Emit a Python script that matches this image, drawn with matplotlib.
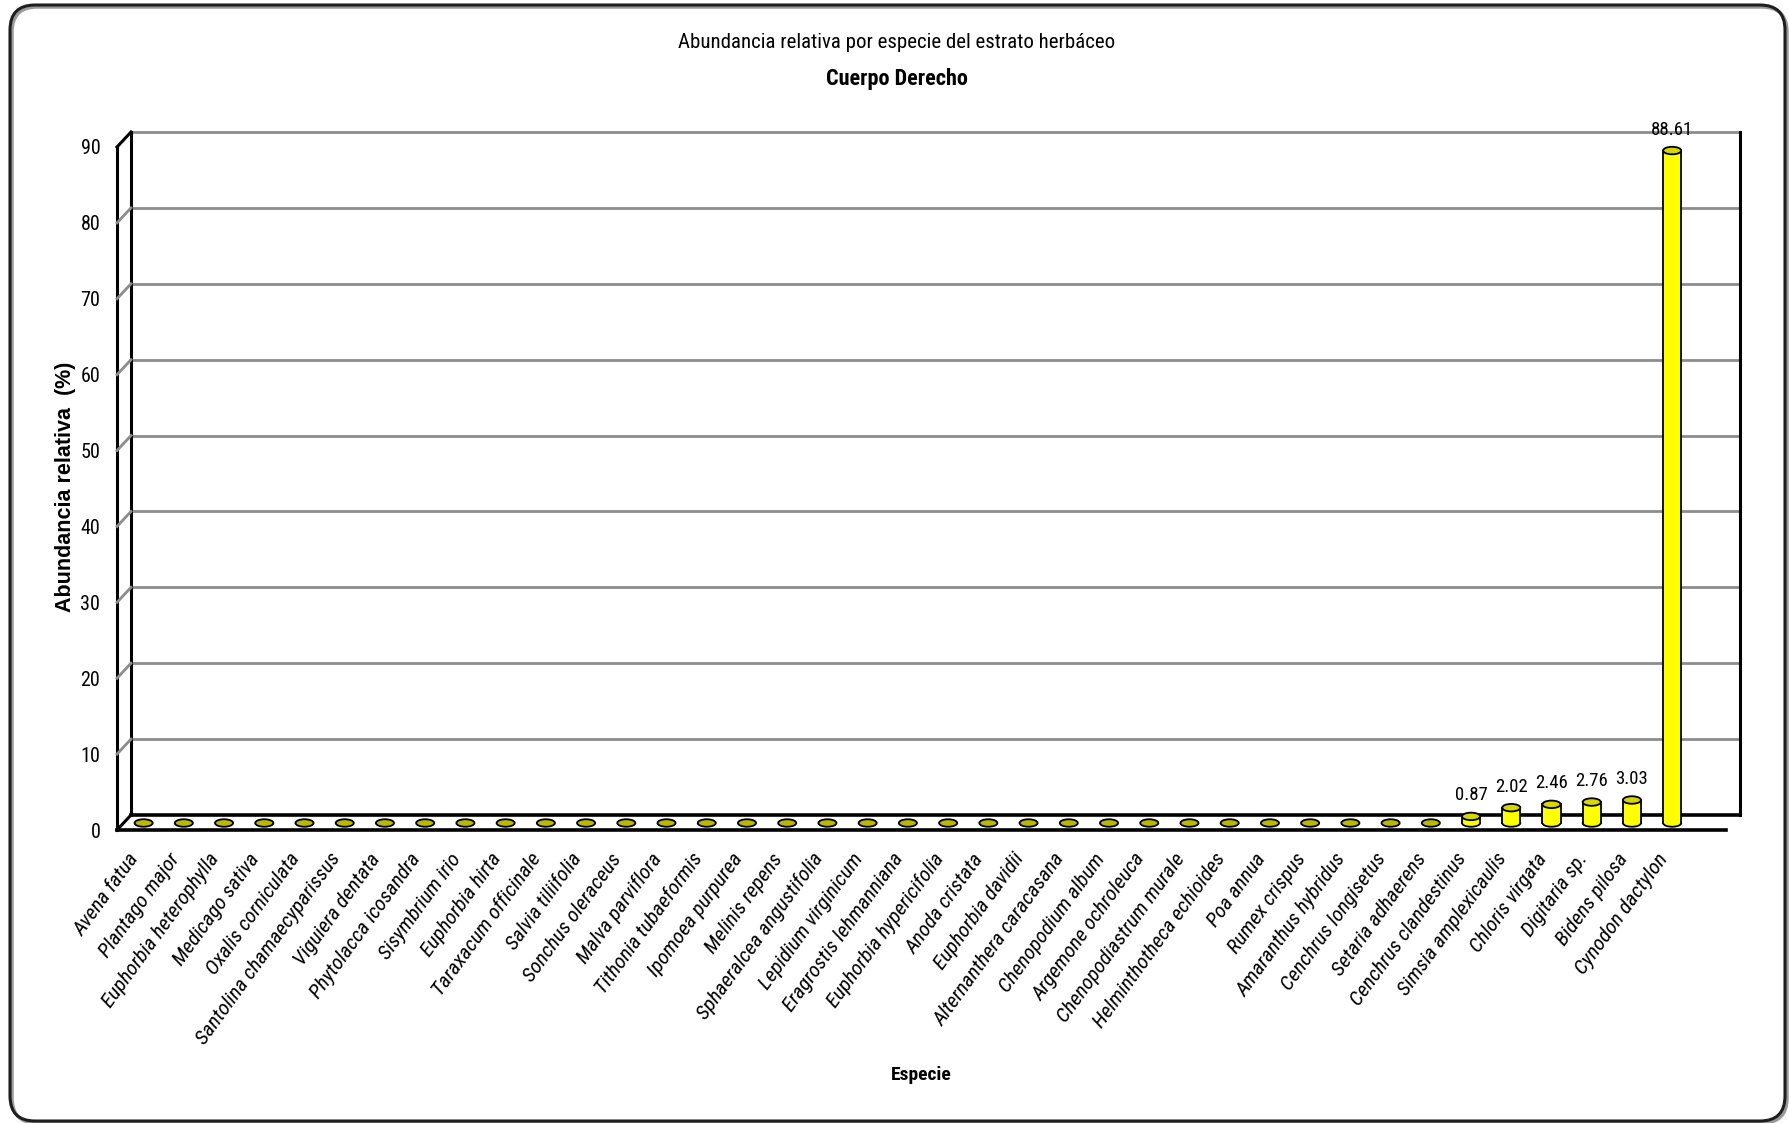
import matplotlib
matplotlib.use("Agg")
import matplotlib.pyplot as plt
import matplotlib.transforms as mtransforms
from matplotlib.patches import Rectangle, Ellipse, FancyBboxPatch
from matplotlib.lines import Line2D
from matplotlib import font_manager

# ---------------------------------------------------------------- data
especies = [
    "Avena fatua", "Plantago major", "Euphorbia heterophylla", "Medicago sativa",
    "Oxalis corniculata", "Santolina chamaecyparissus", "Viguiera dentata",
    "Phytolacca icosandra", "Sisymbrium irio", "Euphorbia hirta",
    "Taraxacum officinale", "Salvia tiliifolia", "Sonchus oleraceus",
    "Malva parviflora", "Tithonia tubaeformis", "Ipomoea purpurea",
    "Melinis repens", "Sphaeralcea angustifolia", "Lepidium virginicum",
    "Eragrostis lehmanniana", "Euphorbia hypericifolia", "Anoda cristata",
    "Euphorbia davidii", "Alternanthera caracasana", "Chenopodium album",
    "Argemone ochroleuca", "Chenopodiastrum murale", "Helminthotheca echioides",
    "Poa annua", "Rumex crispus", "Amaranthus hybridus", "Cenchrus longisetus",
    "Setaria adhaerens", "Cenchrus clandestinus", "Simsia amplexicaulis",
    "Chloris virgata", "Digitaria sp.", "Bidens pilosa", "Cynodon dactylon",
]
abundancia = [
    0.0, 0.0, 0.0, 0.0, 0.0, 0.0, 0.0, 0.0, 0.0, 0.0,
    0.0, 0.0, 0.0, 0.0, 0.0, 0.0, 0.0, 0.0, 0.0, 0.0,
    0.0, 0.0, 0.0, 0.0, 0.0, 0.0, 0.0, 0.0, 0.0, 0.0,
    0.0, 0.0, 0.0, 0.87, 2.02, 2.46, 2.76, 3.03, 88.61,
]
yticks = [0, 10, 20, 30, 40, 50, 60, 70, 80, 90]

titulo = "Abundancia relativa por especie del estrato herbáceo"
subtitulo = "Cuerpo Derecho"
xlabel = "Especie"
ylabel = "Abundancia relativa  (%)"

# ---------------------------------------------------------------- style
# prefer a condensed sans face when one is installed
_names = {f.name for f in font_manager.fontManager.ttflist}
_condensed = [n for n in ("Liberation Sans Narrow", "Arial Narrow",
                          "Roboto Condensed", "Open Sans Condensed",
                          "DejaVu Sans Condensed") if n in _names]
HAS_NARROW = bool(_condensed)
NARROW = _condensed[:1] + ["Liberation Sans", "DejaVu Sans"]
REGULAR = ["Liberation Sans", "DejaVu Sans"]
# a condensed face can be set larger for the same line length
K = 1.0 if HAS_NARROW else 0.84

AMARILLO = "#ffff00"
TAPA = "#d6d600"
PLANO = "#b9b900"
GRID = "#8c8c8c"

W, H, DPI = 1790, 1123, 100
fig = plt.figure(figsize=(W / DPI, H / DPI), dpi=DPI)
fig.patch.set_facecolor("white")

# back wall of the pseudo-3D box
ax = fig.add_axes([131 / W, 1 - 815 / H, 1609 / W, 683 / H])
ax.set_xlim(-0.5, 39.5)
ax.set_ylim(0, 90)
ax.set_facecolor("none")
for s in ax.spines.values():
    s.set_visible(False)

# depth of the box and of the bars (in pixels)
DX, DY = -14, -15
BX, BY = -7.5, -8
depth = mtransforms.ScaledTranslation(DX / DPI, DY / DPI, fig.dpi_scale_trans)
bar_shift = mtransforms.ScaledTranslation(BX / DPI, BY / DPI, fig.dpi_scale_trans)
front = ax.transData + depth
bt = ax.transData + bar_shift

x0, x1 = ax.get_xlim()
ymax = yticks[-1]

# gridlines on back wall and on left side wall
for v in yticks[1:]:
    ax.plot([x0, x1], [v, v], color=GRID, lw=2, zorder=1, clip_on=False)


def diagonal(x, v, color, lw):
    p = ax.transData.transform((x, v))
    line = Line2D([p[0], p[0] + DX], [p[1], p[1] + DY], color=color, lw=lw,
                  transform=mtransforms.IdentityTransform(), zorder=2)
    fig.add_artist(line)


for v in yticks[1:-1]:
    diagonal(x0, v, GRID, 2)
diagonal(x0, ymax, "black", 2.2)
diagonal(x0, 0, "black", 2.2)

# box outline
ax.plot([x0, x0], [0, ymax], color="black", lw=2.2, zorder=2, clip_on=False)
ax.plot([x1, x1], [0, ymax], color="black", lw=2.2, zorder=2, clip_on=False)
ax.plot([x0, x1], [0, 0], color="black", lw=2.6, zorder=2, clip_on=False)
ax.plot([x0, x1], [0, 0], color="black", lw=2.6, zorder=2, clip_on=False,
        transform=front)
ax.plot([x0, x0], [0, ymax], color="black", lw=2.2, zorder=2, clip_on=False,
        transform=front)

# cylinders
px_per_unit = ax.bbox.height / (ymax - 0)
w = 0.45
eh = 7.5 / px_per_unit
for i, v in enumerate(abundancia):
    if v > 0:
        ax.add_patch(Ellipse((i, 0), w, eh, transform=bt, fc=AMARILLO, ec="black",
                             lw=1.3, zorder=3, clip_on=False))
        ax.add_patch(Rectangle((i - w / 2, 0), w, v, transform=bt, fc=AMARILLO,
                               ec="none", zorder=3.1, clip_on=False))
        ax.plot([i - w / 2, i - w / 2], [0, v], transform=bt, color="black",
                lw=1.3, zorder=3.2, clip_on=False)
        ax.plot([i + w / 2, i + w / 2], [0, v], transform=bt, color="black",
                lw=1.3, zorder=3.2, clip_on=False)
        ax.add_patch(Ellipse((i, v), w, eh, transform=bt, fc=TAPA, ec="black",
                             lw=1.3, zorder=3.3, clip_on=False))
        lab_t = bt + mtransforms.ScaledTranslation(0, 21 / DPI, fig.dpi_scale_trans)
        ax.text(i, v, f"{v:.2f}", transform=lab_t, ha="center", va="center",
                fontsize=13.5 * K, family=NARROW, zorder=4)
    else:
        ax.add_patch(Ellipse((i, 0), w, eh, transform=bt, fc=PLANO, ec="black",
                             lw=1.3, zorder=3, clip_on=False))

# y tick labels on the front edge
ax.set_yticks(yticks)
ax.tick_params(axis="y", length=0, pad=12)
for lbl in ax.get_yticklabels():
    lbl.set_fontsize(14.5 * K)
    lbl.set_family(NARROW)
    lbl.set_transform(lbl.get_transform() + depth)

# x tick labels
ax.set_xticks(range(len(especies)))
ax.set_xticklabels(especies, rotation=54, ha="right", va="top",
                   fontsize=15.2 * K, fontstyle="italic", family=NARROW)
ax.tick_params(axis="x", length=0, pad=25)
xshift = mtransforms.ScaledTranslation(-8 / DPI, 0, fig.dpi_scale_trans)
for lbl in ax.get_xticklabels():
    lbl.set_transform(lbl.get_transform() + xshift)

# titles and axis labels
fig.text(897 / W, 1 - 42 / H, titulo, ha="center", va="center",
         fontsize=15 * K, family=NARROW)
fig.text(897 / W, 1 - 79 / H, subtitulo, ha="center", va="center",
         fontsize=16 * K, family=NARROW, fontweight="bold")
fig.text(921 / W, 1 - 1075 / H, xlabel, ha="center", va="center",
         fontsize=14 * K, family=NARROW, fontweight="bold")
fig.text(66 / W, 1 - 487 / H, ylabel, ha="center", va="center", rotation=90,
         fontsize=15.5, family=REGULAR, fontweight="bold")

# rounded frame around the chart area
shadow = FancyBboxPatch((0.12, 0.0), 17.75, 11.16,
                        boxstyle="round,pad=0,rounding_size=0.25",
                        transform=fig.dpi_scale_trans, fc="none", ec="#9a9a9a",
                        lw=2.5)
frame = FancyBboxPatch((0.10, 0.02), 17.75, 11.16,
                       boxstyle="round,pad=0,rounding_size=0.25",
                       transform=fig.dpi_scale_trans, fc="none", ec="#1e1e1e",
                       lw=2.2)
fig.patches.extend([shadow, frame])

fig.savefig("out.png", dpi=DPI, facecolor="white")
